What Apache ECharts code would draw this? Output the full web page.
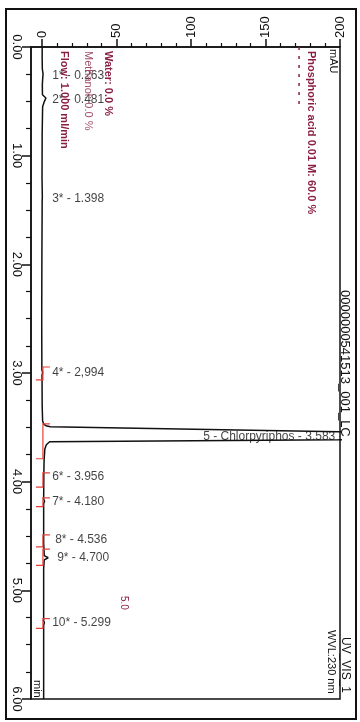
<!DOCTYPE html>
<html>
<head>
<meta charset="utf-8">
<script src="https://cdn.jsdelivr.net/npm/echarts@6/dist/echarts.min.js"></script>
<style>
html,body{margin:0;padding:0;background:#fff;}
#c{width:360px;height:722px;}
</style>
</head>
<body>
<div id="c"></div>
<script>
// ---- data (time in min, signal in mAU) ----
var traceTime = [0.00,0.10,0.20,0.25,0.263,0.28,0.35,0.44,0.47,0.481,0.50,0.55,0.80,1.20,1.38,1.398,1.42,2.00,2.50,2.97,2.994,3.02,3.30,3.44,3.47,3.485,3.495,3.541,3.583,3.615,3.633,3.66,3.70,3.80,3.94,3.956,3.98,4.16,4.180,4.20,4.52,4.536,4.56,4.68,4.700,4.72,4.80,5.28,5.299,5.32,6.00];
var traceMAU  = [0.0,0.0,0.1,0.6,0.9,0.4,0.1,0.2,2.5,3.5,1.5,0.3,0.0,-0.1,0.1,0.4,0.0,-0.2,-0.3,-0.2,0.3,-0.1,0.0,0.3,1.0,2.5,5.5,199,320,199,5,2.8,1.8,1.3,1.1,1.6,1.1,1.0,1.6,1.0,1.0,1.5,1.0,1.4,4.0,1.4,1.0,1.0,1.5,1.0,1.0];

var peakTimes = [0.263,0.481,1.398,2.994,3.583,3.956,4.180,4.536,4.700,5.299];
var peakNames = ['1* - 0.263','2* - 0.481','3* - 1.398','4* - 2,994','5 - Chlorpyriphos - 3.583','6* - 3.956','7* - 4.180','8* - 4.536','9* - 4.700','10* - 5.299'];

var integStart = [2.945,3.468,3.920,4.150,4.490,4.620,5.260];
var integEnd   = [3.064,3.789,4.050,4.230,4.600,4.770,5.350];

var gradTime = [0.00,0.55];
var gradMAU  = [172.5,172.5];

var majorTicksMAU = [0,50,100,150,200];
var minorTicksMAU = [10,20,30,40,60,70,80,90,110,120,130,140,160,170,180,190];

// ---- build ----
var FONT = "'Liberation Sans', Arial, sans-serif";
var INK = '#111';
var MAROON = '#8a1f45';

var traceData = traceTime.map(function(t,i){ return [traceMAU[i], t]; });
var labelData = peakTimes.map(function(t,i){
  var item = {value:[0, t], name: peakNames[i]};
  if (i === 4) item.label = {offset:[151,0]};
  if (i === 7) item.label = {offset:[3,0]};
  if (i === 8) item.label = {offset:[5,0]};
  return item;
});
var integData = integStart.map(function(s,i){ return [s, integEnd[i]]; });
var gradData = gradTime.map(function(t,i){ return [gradMAU[i], t]; });

function rtext(x, y, txt, size, color, weight){
  return {type:'text', x:x, y:y, rotation:-Math.PI/2, z:10,
    style:{text:txt, fontSize:size, fontFamily:FONT, fill:color, fontWeight:weight||'normal',
      align:'left', verticalAlign:'middle'}};
}

var chart = echarts.init(document.getElementById('c'), null, {renderer:'canvas'});
chart.setOption({
  animation:false,
  backgroundColor:'#fff',
  grid:{left:31, top:47, right:20, bottom:23, show:true, borderColor:INK, borderWidth:1.5, backgroundColor:'transparent'},
  xAxis:[{
    type:'value', position:'top', min:-7.5, max:200,
    axisLine:{show:true, onZero:false, lineStyle:{color:INK, width:1.5}},
    axisTick:{show:true, customValues:majorTicksMAU, length:8, lineStyle:{color:INK, width:1.5}},
    axisLabel:{show:true, customValues:majorTicksMAU, rotate:-90, margin:9, fontSize:13, fontFamily:FONT, color:INK},
    splitLine:{show:false}
  },{
    type:'value', position:'top', min:-7.5, max:200,
    axisLine:{show:false},
    axisTick:{show:true, customValues:minorTicksMAU, length:4, lineStyle:{color:INK, width:1.2}},
    axisLabel:{show:false},
    splitLine:{show:false}
  }],
  yAxis:{
    type:'value', inverse:true, min:0, max:6, interval:1,
    axisLine:{show:true, onZero:false, lineStyle:{color:INK, width:1.5}},
    axisTick:{show:true, length:9, lineStyle:{color:INK, width:1.5}},
    minorTick:{show:true, splitNumber:4, length:5, lineStyle:{color:INK, width:1.2}},
    axisLabel:{rotate:-90, margin:8, fontSize:13, fontFamily:FONT, color:INK,
      formatter:function(v){ return v.toFixed(2); }},
    splitLine:{show:false}, minorSplitLine:{show:false}
  },
  series:[{
    type:'line', data:traceData, showSymbol:false, symbol:'none', clip:true,
    lineStyle:{color:INK, width:1.5}, z:3
  },{
    type:'line', data:gradData, showSymbol:false, symbol:'none',
    lineStyle:{color:MAROON, width:1.5, type:[3,6]}, z:2
  },{
    type:'custom', data:integData, z:4,
    renderItem:function(params, api){
      var p1 = api.coord([0.5, api.value(0)]);
      var p2 = api.coord([0.5, api.value(1)]);
      return {type:'polyline', shape:{points:[[p1[0]+7,p1[1]],[p1[0],p1[1]],[p2[0],p2[1]],[p2[0]-7,p2[1]]]},
        style:{stroke:'#e8403a', lineWidth:1.2, fill:null}};
    }
  },{
    type:'scatter', data:labelData, symbolSize:0, z:5,
    label:{show:true, position:'right', distance:10, formatter:'{b}', fontSize:12, fontFamily:FONT, color:INK}
  }],
  graphic:[
    {type:'rect', shape:{x:6, y:9, width:350, height:710}, style:{stroke:INK, lineWidth:2, fill:null}, z:10},
    rtext(333, 49, 'mAU', 11, INK),
    rtext(37, 680, 'min', 11, INK),
    rtext(108, 51, 'Water: 0.0 %', 11, MAROON, 'bold'),
    rtext(88, 51, 'Methanol: 0.0 %', 11, '#a0506e'),
    rtext(64, 51, 'Flow: 1.000 ml/min', 11, MAROON, 'bold'),
    rtext(311, 51, 'Phosphoric acid 0.01 M: 60.0 %', 11, MAROON, 'bold'),
    rtext(345, 290, '0000000541513_001_LC', 13, INK),
    rtext(345, 637, 'UV_VIS_1', 12, INK),
    rtext(331, 630, 'WVL:230 nm', 11, INK),
    rtext(124, 596, '5.0', 10, MAROON)
  ]
});
</script>
</body>
</html>
